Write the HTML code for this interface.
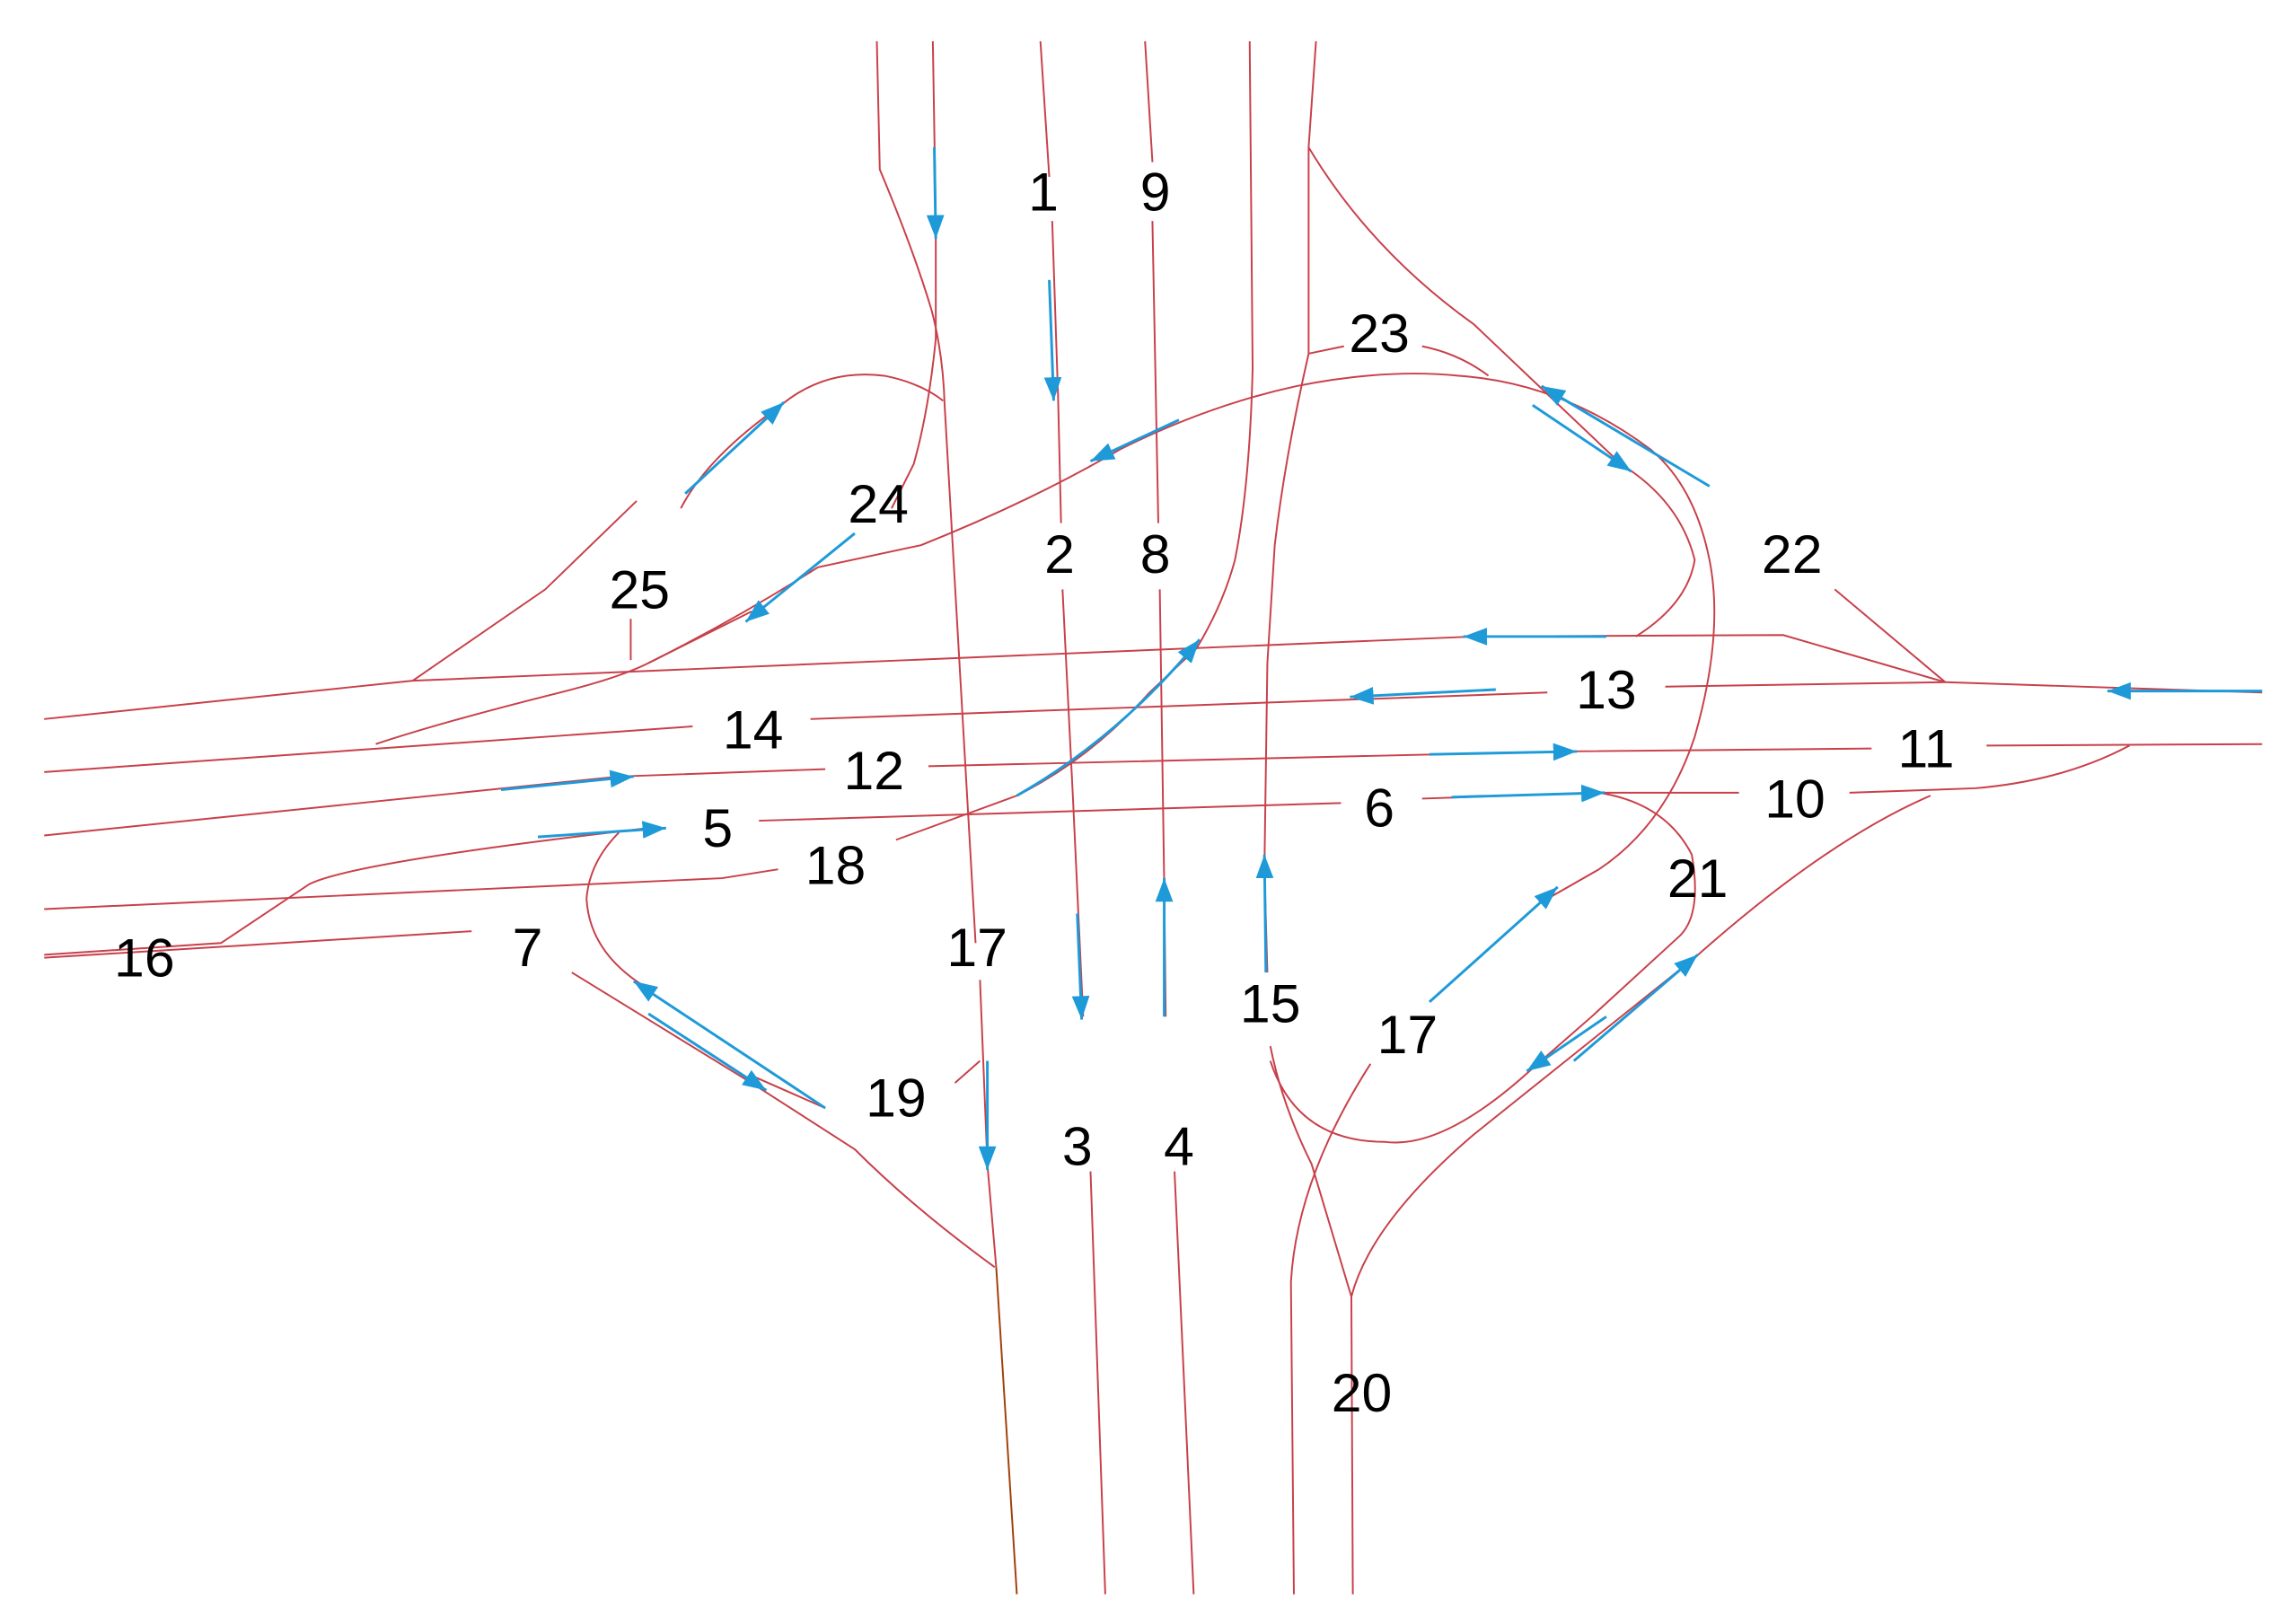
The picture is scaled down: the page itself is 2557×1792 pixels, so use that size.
<!DOCTYPE html>
<html><head><meta charset="utf-8"><style>
html,body{margin:0;padding:0;background:#fff;}
svg{display:block;}
text{font-family:"Liberation Sans",sans-serif;font-size:37px;fill:#000;text-anchor:middle;dominant-baseline:central;}
</style></head><body>
<svg width="2557" height="1792" viewBox="0 0 1558 1092" preserveAspectRatio="none" xmlns="http://www.w3.org/2000/svg">
<defs>
<marker id="a" viewBox="0 0 16 12" refX="16" refY="6" markerWidth="16" markerHeight="12" markerUnits="userSpaceOnUse" orient="auto"><path d="M0,0 L16,6 L0,12 z" fill="#1f9ad8"/></marker>
</defs>
<g fill="none" stroke="#c8404a" stroke-width="1.2">
<path d="M595,28 L597,115 Q620,170 632,210 Q640,240 641,275 L662,640"/>
<path d="M665,665 L670,790 L676,860"/>
<path d="M676,860 L690,1082" stroke="#a0400a"/>
<path d="M633,28 L635,150 L635,230 Q630,280 620,315 L605,345"/>
<path d="M706,28 L712,120"/>
<path d="M714,150 L718,270 L720,355"/>
<path d="M721,400 L728,540 L735,690"/>
<path d="M740,795 L750,1082"/>
<path d="M777,28 L782,110"/>
<path d="M782,150 L786,355"/>
<path d="M787,400 L790,600 L791,690"/>
<path d="M797,795 L810,1082"/>
<path d="M848,28 L850,250 Q848,330 838,380 Q830,410 812,440"/>
<path d="M893,28 L888,100 L888,240 Q872,310 865,370 L860,450 L858,590 L860,660"/>
<path d="M862,710 Q870,750 890,790 L917,880 L918,1082"/>
<path d="M930,722 Q880,800 876,870 L878,1082"/>
<path d="M917,880 Q930,830 1000,770 L1150,650 Q1240,570 1310,540"/>
<path d="M30,488 L280,462 L1000,432 L1210,431 L1320,463 L1535,470"/>
<path d="M30,524 L470,493"/>
<path d="M550,488 L1050,470"/>
<path d="M1130,466 L1320,463"/>
<path d="M30,567 L420,527 L560,522"/>
<path d="M630,520 L1060,510 L1270,508"/>
<path d="M1348,506 L1535,505"/>
<path d="M515,557 L910,545"/>
<path d="M965,542 L1085,538 L1180,538"/>
<path d="M1255,538 L1340,535 Q1400,530 1445,506"/>
<path d="M30,617 L490,596 L528,590"/>
<path d="M608,570 L690,540 Q740,515 780,470 L812,440"/>
<path d="M30,648 L150,640 Q180,620 210,600 Q240,585 440,562"/>
<path d="M30,650 L320,632"/>
<path d="M428,448 L428,420"/>
<path d="M280,462 L370,400 L432,340"/>
<path d="M462,345 Q480,310 530,275 Q560,250 600,255 Q625,260 640,272"/>
<path d="M255,505 Q300,490 380,470 Q420,460 440,450 L510,415"/>
<path d="M440,450 Q500,420 555,385 L625,370 Q700,340 760,305 Q820,275 880,262 Q940,250 990,255 Q1060,260 1120,305 Q1150,330 1160,380 Q1170,430 1150,500 Q1130,560 1085,590 L1050,610"/>
<path d="M420,565 Q400,585 398,610 Q400,645 435,668"/>
<path d="M388,660 L510,735 L580,780 Q620,820 675,860"/>
<path d="M560,752 L510,730"/>
<path d="M648,735 L665,720"/>
<path d="M888,100 Q930,170 1000,220 L1100,315 Q1140,340 1150,380 Q1145,410 1110,432"/>
<path d="M1245,400 L1320,463"/>
<path d="M912,235 L888,240"/>
<path d="M965,235 Q990,240 1010,255"/>
<path d="M1085,538 Q1130,545 1148,580 Q1155,620 1140,635 L1080,690 L1040,725 Q980,780 940,775 Q880,775 862,720"/>
</g>
<g fill="none" stroke="#1f9ad8" stroke-width="1.8" marker-end="url(#a)">
<path d="M634,100 L635,162"/>
<path d="M712,190 L715,272"/>
<path d="M731,620 L734,692"/>
<path d="M790,690 L790,596"/>
<path d="M859,660 L858,580"/>
<path d="M670,720 L670,794"/>
<path d="M1090,432 L993,432"/>
<path d="M1535,469 L1430,469"/>
<path d="M1015,468 L916,473"/>
<path d="M340,536 L430,527"/>
<path d="M970,512 L1070,510"/>
<path d="M365,568 L452,562"/>
<path d="M985,541 L1089,538"/>
<path d="M465,335 L532,273"/>
<path d="M580,362 L506,422"/>
<path d="M800,285 L740,313"/>
<path d="M690,540 Q760,500 814,434"/>
<path d="M1160,330 L1046,262"/>
<path d="M1040,275 L1107,320"/>
<path d="M560,752 L430,666"/>
<path d="M440,688 L520,740"/>
<path d="M970,680 L1057,602"/>
<path d="M1090,690 L1036,727"/>
<path d="M1068,720 L1152,648"/>
</g>
<g>
<text x="708" y="130">1</text>
<text x="784" y="130">9</text>
<text x="936" y="226">23</text>
<text x="596" y="342">24</text>
<text x="719" y="376">2</text>
<text x="784" y="376">8</text>
<text x="1216" y="376">22</text>
<text x="434" y="400">25</text>
<text x="1090" y="468">13</text>
<text x="511" y="495">14</text>
<text x="593" y="523">12</text>
<text x="1307" y="508">11</text>
<text x="487" y="562">5</text>
<text x="936" y="548">6</text>
<text x="1218" y="542">10</text>
<text x="567" y="587">18</text>
<text x="1152" y="596">21</text>
<text x="98" y="650">16</text>
<text x="358" y="643">7</text>
<text x="663" y="643">17</text>
<text x="862" y="681">15</text>
<text x="955" y="702">17</text>
<text x="608" y="745">19</text>
<text x="731" y="778">3</text>
<text x="800" y="778">4</text>
<text x="924" y="945">20</text>
</g>
</svg>
</body></html>
